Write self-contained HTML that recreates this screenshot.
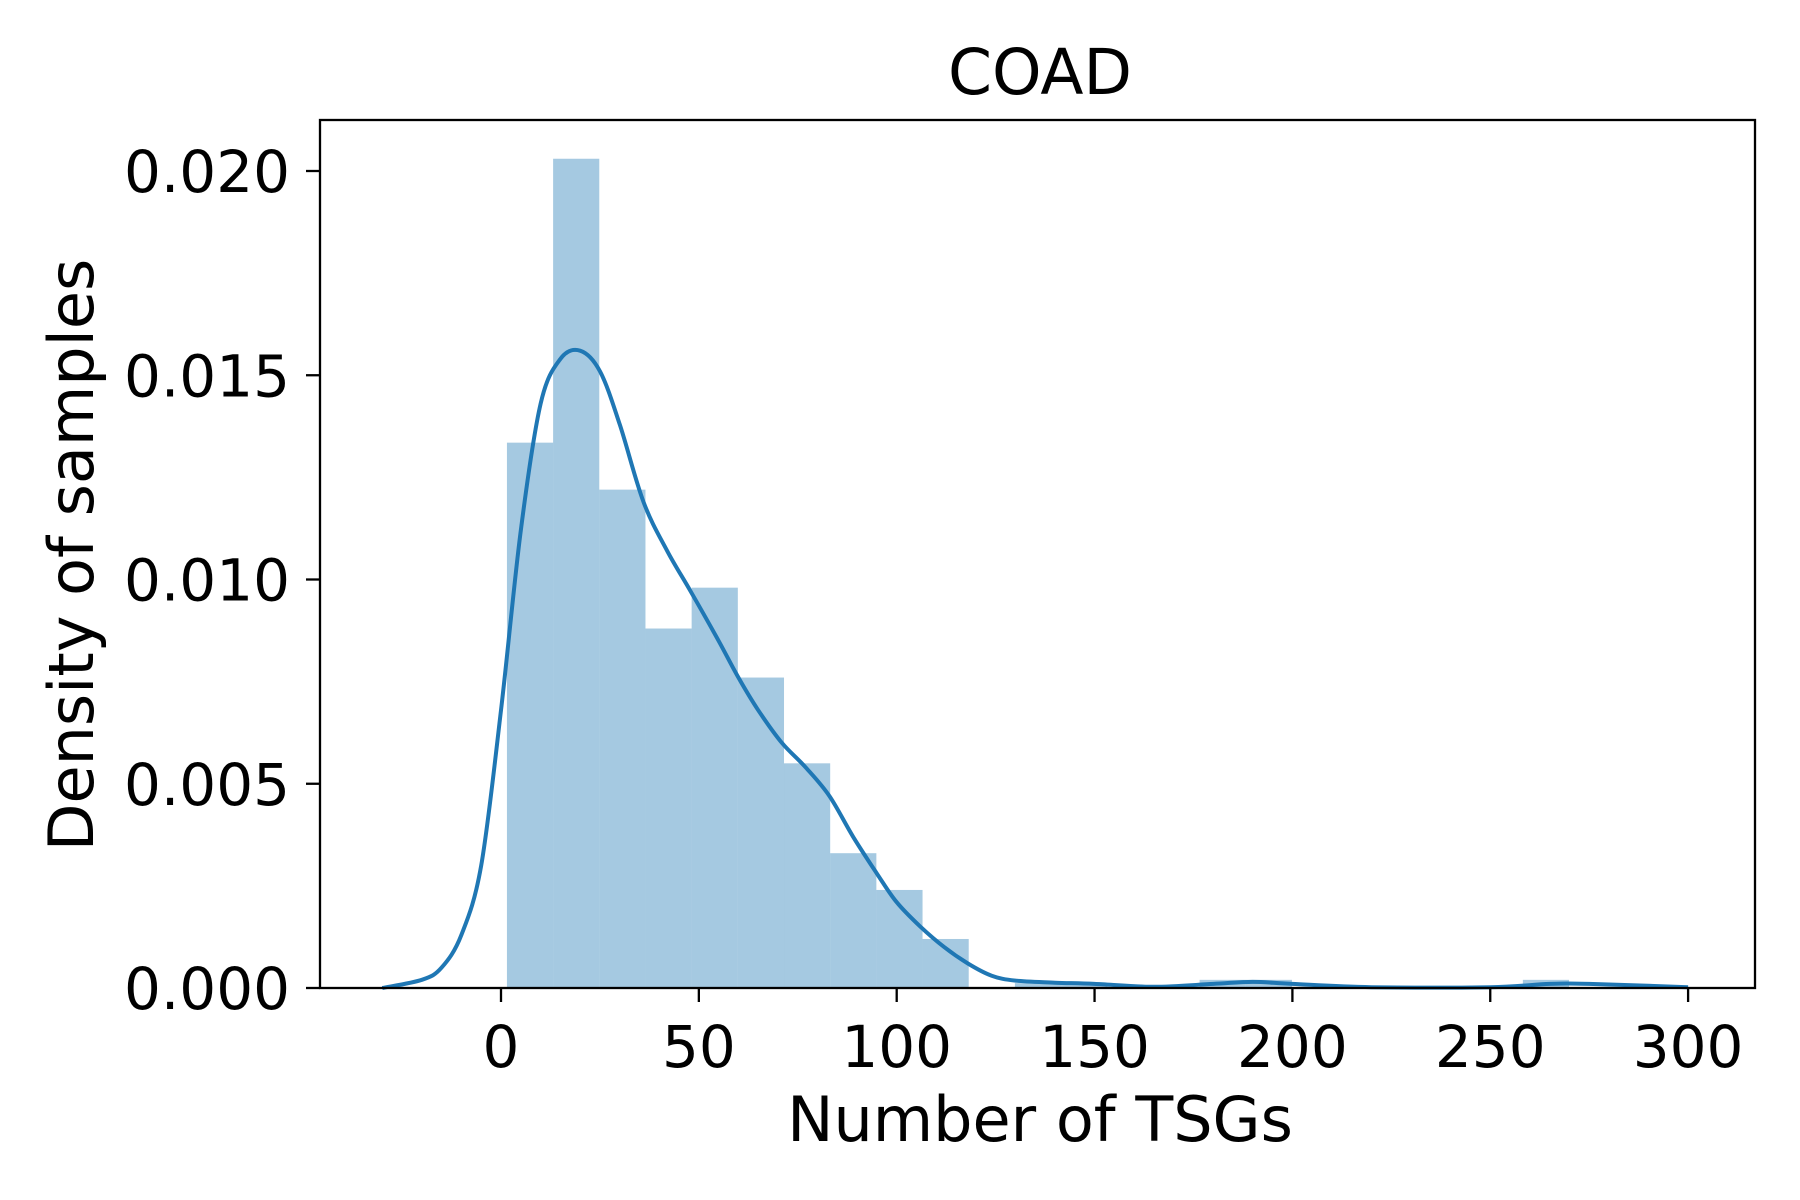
<!DOCTYPE html>
<html><head><meta charset="utf-8"><style>
html,body{margin:0;padding:0;background:#fff;}
svg{display:block;font-family:"DejaVu Sans","Liberation Sans",sans-serif;}
</style></head><body>
<svg id="chart" width="1800" height="1200" viewBox="0 0 1800 1200" xmlns="http://www.w3.org/2000/svg">
<rect width="1800" height="1200" fill="#fff"/>
<text x="1040" y="94" font-size="63" text-anchor="middle">COAD</text>
<g id="bars"></g>
<g id="kde"></g>
<rect x="320" y="120" width="1435" height="868" fill="none" stroke="#000" stroke-width="2.3"/>
<g id="xticks"></g>
<g id="yticks"></g>
<text x="1040" y="1141" font-size="62" text-anchor="middle">Number of TSGs</text>
<text transform="translate(93,555) rotate(-90)" font-size="62" text-anchor="middle">Density of samples</text>
</svg>
<script>
const binStart = 1.5;
const binWidth = 11.67;
const binHeights = [0.01335,0.0203,0.0122,0.0088,0.0098,0.0076,0.0055,0.0033,0.0024,0.0012,0,0.00012,0.00012,0,0,0.0002,0.0002,0,0,0,0,0,0.0002];
const kdeX = [-30,-20,-15,-10,-5,0,5,10,15,20,25,30,36,42,48,55,60,65,71,77,83,89,95,100,106,112,118,124,130,140,150,165,180,190,200,220,250,265,275,300];
const kdeY = [0,0.0002,0.0005,0.0013,0.003,0.0068,0.0112,0.0143,0.0154,0.0156,0.0151,0.0138,0.0119,0.0107,0.0097,0.0085,0.0076,0.0068,0.006,0.0054,0.0047,0.0037,0.0028,0.0021,0.0015,0.001,0.0006,0.0003,0.00018,0.00013,0.0001,0.00003,0.0001,0.00015,0.0001,0.00002,0.00002,0.0001,0.0001,0.00002];
const xTicks = [0,50,100,150,200,250,300];
const yTicks = [0,0.005,0.010,0.015,0.020];
const yTickLabels = ["0.000","0.005","0.010","0.015","0.020"];
const NS="http://www.w3.org/2000/svg";
const xs = v => 501 + v*3.957;
const ys = v => 988 - v*40850;
function mk(tag, attrs, parent){const e=document.createElementNS(NS,tag);for(const k in attrs)e.setAttribute(k,attrs[k]);parent.appendChild(e);return e;}
const bars=document.getElementById('bars');
binHeights.forEach((h,i)=>{
  if(h<=0) return;
  const x0=xs(binStart+i*binWidth), x1=xs(binStart+(i+1)*binWidth);
  const r=mk('rect',{x:x0,y:ys(h),width:x1-x0,height:988-ys(h),fill:'#1f77b4','fill-opacity':0.4},bars);
  
  
});
const kde=document.getElementById('kde');
const pts=kdeX.map((x,i)=>[xs(x),ys(kdeY[i])]);
let d='M'+pts[0][0].toFixed(1)+','+pts[0][1].toFixed(1);
for(let i=0;i<pts.length-1;i++){
  const p0=pts[Math.max(0,i-1)],p1=pts[i],p2=pts[i+1],p3=pts[Math.min(pts.length-1,i+2)];
  const c1=[p1[0]+(p2[0]-p0[0])/6,p1[1]+(p2[1]-p0[1])/6];
  const c2=[p2[0]-(p3[0]-p1[0])/6,p2[1]-(p3[1]-p1[1])/6];
  d+=' C'+c1[0].toFixed(1)+','+c1[1].toFixed(1)+' '+c2[0].toFixed(1)+','+c2[1].toFixed(1)+' '+p2[0].toFixed(1)+','+p2[1].toFixed(1);
}
const p=mk('path',{d:d,fill:'none',stroke:'#1f77b4','stroke-width':4,'stroke-linejoin':'round'},kde);


const xt=document.getElementById('xticks');
xTicks.forEach(v=>{
  const l=mk('line',{x1:xs(v),x2:xs(v),y1:988,y2:1002,stroke:'#000','stroke-width':2.3},xt);
  
  
  const t=mk('text',{x:xs(v),y:1067,'font-size':58,'text-anchor':'middle'},xt);
  t.textContent=v;
  
  
});
const yt=document.getElementById('yticks');
yTicks.forEach((v,i)=>{
  const l=mk('line',{x1:306,x2:320,y1:ys(v),y2:ys(v),stroke:'#000','stroke-width':2.3},yt);
  
  
  const t=mk('text',{x:290,y:ys(v)+21,'font-size':58,'text-anchor':'end'},yt);
  t.textContent=yTickLabels[i];
  
  
});
</script>
</body></html>
